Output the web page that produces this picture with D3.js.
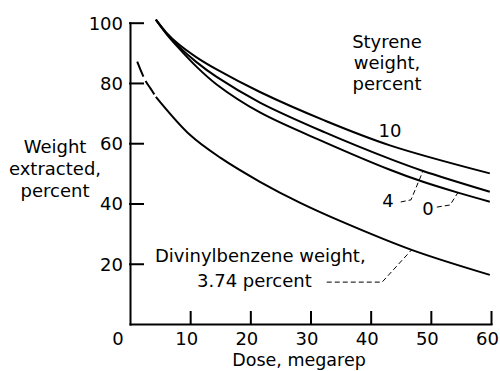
<!DOCTYPE html>
<html>
<head>
<meta charset="utf-8">
<script src="https://cdn.jsdelivr.net/npm/d3@7"></script>
<style>
  body { margin: 0; background: #fff; }
  text { font-family: "DejaVu Sans", sans-serif; fill: #000; }
</style>
</head>
<body>
<svg id="chart" width="500" height="371"></svg>
<script>
// Tick values
const doseTicks = [10, 20, 30, 40, 50, 60];
const weightTicks = [20, 40, 60, 80, 100];

// Weight extracted (percent) against dose (megarep), [dose, weight]
const styrene10 = [[4.3, 101], [6, 96.8], [8, 93.0], [11, 88.6], [14.4, 84.5], [21.6, 77.0], [32.4, 67.5], [43.2, 59.3], [59.8, 50.0]];
const styrene4  = [[4.3, 101], [6, 96.6], [8, 92.3], [11, 87.0], [14.4, 82.0], [21.6, 73.5], [32.4, 63.6], [43.2, 54.8], [48.7, 50.8], [59.8, 43.9]];
const styrene0  = [[4.3, 101], [6, 96.4], [8, 91.8], [11, 85.5], [14.4, 79.5], [21.6, 70.2], [32.4, 60.3], [43.2, 51.2], [48.7, 47.2], [54.5, 43.6], [59.8, 40.6]];
// Divinylbenzene 3.74 percent: extrapolated start (dashed) and measured part (solid)
const dvbDashed = [[1.2, 87.1], [2.5, 81.0], [3.4, 78.2], [4.3, 75.4]];
const dvbSolid  = [[4.3, 75.4], [10, 62.7], [15, 55.2], [21.6, 47.2], [28.3, 40.2], [35.4, 33.8], [46.8, 24.6], [59.8, 16.3]];

// Leader lines from labels to curves, [dose, weight]
const leader4   = [[45.0, 40.5], [46.7, 41.2], [48.7, 50.8]];
const leader0   = [[51.0, 38.8], [53.2, 39.5], [54.5, 43.6]];
const leaderDvb = [[32.7, 13.9], [41.9, 13.9], [46.8, 24.6]];

const svg = d3.select("#chart");

const x = d3.scaleLinear().domain([0, 60]).range([130, 491]);
const y = d3.scaleLinear().domain([0, 100]).range([324, 22.7]);

// Axes with inward ticks
const yAxis = d3.axisLeft(y).tickValues(weightTicks).tickSize(-13).tickSizeOuter(0).tickPadding(7);
const gy = svg.append("g").attr("transform", `translate(${x(0)},0)`).call(yAxis);
gy.selectAll("text").attr("font-size", 18).attr("dy", "0.36em");

const xAxis = d3.axisBottom(x).tickValues(doseTicks).tickSize(-12).tickSizeOuter(0).tickPadding(8);
const gx = svg.append("g").attr("transform", `translate(0,${y(0)})`).call(xAxis);
gx.selectAll("text").attr("font-size", 18).attr("dx", -4);

svg.selectAll(".domain, .tick line")
  .attr("stroke", "#000").attr("stroke-width", 2).attr("stroke-linecap", "square");
svg.selectAll(".tick text").attr("fill", "#000").style("font-family", "'DejaVu Sans', sans-serif");

// Origin label
svg.append("text").attr("x", x(0) - 12).attr("y", 345)
  .attr("text-anchor", "middle").attr("font-size", 18).text("0");

// Curves
const line = d3.line().x(d => x(d[0])).y(d => y(d[1])).curve(d3.curveCatmullRom.alpha(0.5));
[styrene10, styrene4, styrene0, dvbSolid].forEach(s => {
  svg.append("path").attr("d", line(s)).attr("fill", "none")
    .attr("stroke", "#000").attr("stroke-width", 2);
});
svg.append("path").attr("d", line(dvbDashed)).attr("fill", "none")
  .attr("stroke", "#000").attr("stroke-width", 2).attr("stroke-dasharray", "16,5");

// Leaders
const straight = d3.line().x(d => x(d[0])).y(d => y(d[1]));
[leader4, leader0, leaderDvb].forEach(s => {
  svg.append("path").attr("d", straight(s)).attr("fill", "none")
    .attr("stroke", "#000").attr("stroke-width", 1).attr("stroke-dasharray", "5,3");
});

// Text labels
function label(lines, cx, y0, dy, size, anchor) {
  const t = svg.append("text").attr("font-size", size).attr("text-anchor", anchor || "middle");
  lines.forEach((s, i) => t.append("tspan").attr("x", cx).attr("y", y0 + i * dy).text(s));
}
label(["Weight", "extracted,", "percent"], 55, 153, 22, 18);
label(["Styrene", "weight,", "percent"], 387, 48, 21, 18);
label(["10"], 390, 137, 0, 18);
label(["4"], 388, 207, 0, 18);
label(["0"], 428, 215, 0, 18);
label(["Divinylbenzene weight,"], 155, 262, 0, 18, "start");
label(["3.74 percent"], 197, 287, 0, 18, "start");
label(["Dose, megarep"], 299, 366, 0, 17.5);
</script>
</body>
</html>
